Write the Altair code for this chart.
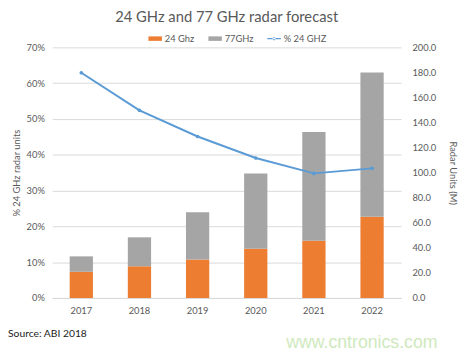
import altair as alt
import pandas as pd

years = ["2017", "2018", "2019", "2020", "2021", "2022"]
ghz24 = [20.9, 25.3, 30.8, 39.2, 45.7, 64.9]
ghz77 = [12.3, 23.1, 37.7, 60.1, 86.8, 115.1]
pct24 = [62.9, 52.4, 45.1, 39.1, 34.8, 36.2]

series_names = ["24 Ghz", "77GHz", "% 24 GHZ"]
series_colors = ["#ED7D31", "#A5A5A5", "#5B9BD5"]

bars_df = pd.DataFrame({
    "year": years * 2,
    "value": ghz24 + ghz77,
    "series": ["24 Ghz"] * len(years) + ["77GHz"] * len(years),
    "order": [0] * len(years) + [1] * len(years),
})
line_df = pd.DataFrame({"year": years, "pct": pct24, "series": ["% 24 GHZ"] * len(years)})

FONT = "Lato"
GREY = "#595959"

sym_expr = ("datum.value == '% 24 GHZ' ? "
            "'M-1.8,-0.14H1.8V0.14H-1.8Z M-0.4,0A0.4,0.4 0 1,0 0.4,0A0.4,0.4 0 1,0 -0.4,0' : "
            "'M-1.8,-0.6H1.8V0.6H-1.8Z'")

color = alt.Color(
    "series:N",
    scale=alt.Scale(domain=series_names, range=series_colors),
    legend=alt.Legend(
        title=None, orient="none", legendX=100, legendY=-14, direction="horizontal",
        symbolType=alt.ExprRef(expr=sym_expr), symbolSize=58, symbolStrokeWidth=0,
        labelFont=FONT, labelFontSize=9.5, labelColor=GREY, labelOffset=5,
        columnPadding=13,
    ),
)

x = alt.X("year:N", title=None, sort=years,
          scale=alt.Scale(paddingInner=0.6, paddingOuter=0.3),
          axis=alt.Axis(labelAngle=0, ticks=False, domain=True, domainColor="#d9d9d9",
                        labelFont=FONT, labelFontSize=9.5, labelColor=GREY, labelPadding=8))

bars = alt.Chart(bars_df).mark_bar().encode(
    x=x,
    y=alt.Y("value:Q", stack="zero", title="Radar Units (M)",
            scale=alt.Scale(domain=[0, 200], nice=False),
            axis=alt.Axis(orient="right", values=list(range(0, 201, 20)), format=".1f",
                          grid=False, ticks=False, domain=False,
                          labelFont=FONT, labelFontSize=9.5, labelColor=GREY, labelPadding=11,
                          titleFont=FONT, titleFontSize=9.5, titleColor=GREY,
                          titleFontWeight="normal", titlePadding=12)),
    color=color,
    order=alt.Order("order:Q"),
)

line = alt.Chart(line_df).mark_line(
    strokeWidth=2, point=alt.OverlayMarkDef(size=14, filled=True)
).encode(
    x=x,
    y=alt.Y("pct:Q", title="% 24 GHz radar units",
            scale=alt.Scale(domain=[0, 70], nice=False),
            axis=alt.Axis(orient="left", values=list(range(0, 71, 10)),
                          labelExpr="datum.value + '%'",
                          grid=True, gridColor="#d9d9d9", gridWidth=1,
                          ticks=False, domain=False,
                          labelFont=FONT, labelFontSize=9.5, labelColor=GREY, labelPadding=8,
                          titleFont=FONT, titleFontSize=9.5, titleColor=GREY,
                          titleFontWeight="normal", titlePadding=5)),
    color=color,
)

source = alt.Chart(pd.DataFrame({"t": ["Source: ABI 2018"]})).mark_text(
    align="left", baseline="middle", font=FONT, fontSize=10.5, color="#222222"
).encode(x=alt.value(-45), y=alt.value(292), text="t:N")

watermark = alt.Chart(pd.DataFrame({"t": ["www.cntronics.com"]})).mark_text(
    align="left", baseline="middle", font="Liberation Sans", fontSize=18, color="#cfe9bd"
).encode(x=alt.value(238), y=alt.value(301), text="t:N")

chart = alt.layer(bars, line, source, watermark).resolve_scale(
    y="independent"
).properties(
    width=355, height=255,
    autosize=alt.AutoSizeParams(type="none"),
    padding={"left": 45, "top": 37, "right": 66, "bottom": 56},
    title=alt.TitleParams("24 GHz and 77 GHz radar forecast", font=FONT, fontSize=15,
                          fontWeight="normal", color=GREY, anchor="middle", offset=9),
).configure_view(stroke=None)

chart.save("out.html", embed_options={"renderer": "svg", "actions": False})
